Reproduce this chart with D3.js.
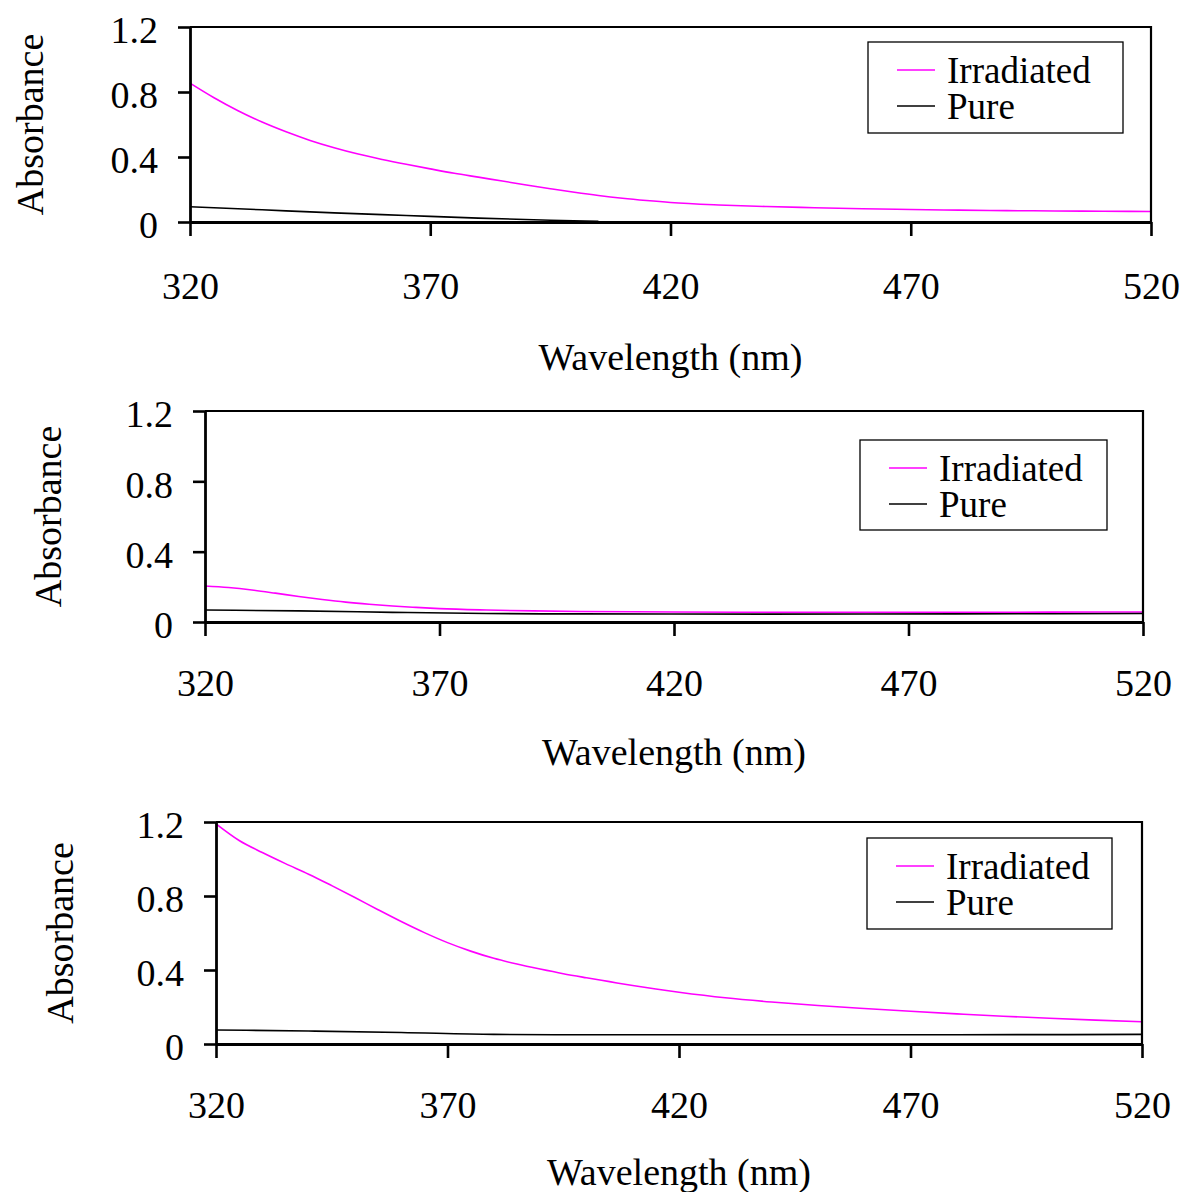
<!DOCTYPE html>
<html>
<head>
<meta charset="utf-8">
<script src="https://cdn.jsdelivr.net/npm/d3@7"></script>
<style>
    body { margin: 0; background: #fff; }
    text { font-family: "Liberation Serif", "Times New Roman", serif; fill: #000; }
</style>
</head>
<body>
<svg width="1186" height="1192"></svg>
<script>
// tick values and legend names
const xTicks = [320, 370, 420, 470, 520];
const yTicks = [0, 0.4, 0.8, 1.2];
const seriesNames = ["Irradiated", "Pure"];

// panel 1 (top)
const irr1Wl = [320, 325, 330, 335, 340, 345, 350, 355, 360, 365, 370, 375, 380, 385, 390, 395, 400, 405, 410, 415, 420, 430, 440, 450, 460, 470, 480, 490, 500, 510, 520];
const irr1Abs = [0.855, 0.765, 0.685, 0.615, 0.555, 0.502, 0.457, 0.418, 0.385, 0.355, 0.327, 0.3, 0.276, 0.252, 0.228, 0.205, 0.183, 0.163, 0.146, 0.132, 0.12, 0.105, 0.095, 0.088, 0.082, 0.077, 0.073, 0.07, 0.068, 0.066, 0.065];
const pure1Wl = [320, 335, 350, 365, 380, 395, 405];
const pure1Abs = [0.094, 0.075, 0.056, 0.04, 0.024, 0.011, 0.005];

// panel 2 (middle)
const irr2Wl = [320, 325, 330, 335, 340, 345, 350, 355, 360, 365, 370, 380, 390, 400, 420, 440, 460, 480, 500, 520];
const irr2Abs = [0.205, 0.196, 0.182, 0.164, 0.145, 0.128, 0.113, 0.101, 0.091, 0.083, 0.076, 0.068, 0.063, 0.06, 0.057, 0.055, 0.055, 0.055, 0.056, 0.057];
const pure2Wl = [320, 340, 360, 380, 400, 440, 480, 520];
const pure2Abs = [0.068, 0.063, 0.055, 0.048, 0.046, 0.045, 0.046, 0.048];

// panel 3 (bottom)
const irr3Wl = [320, 325, 330, 335, 340, 345, 350, 355, 360, 365, 370, 375, 380, 385, 390, 395, 400, 405, 410, 415, 420, 430, 440, 450, 460, 470, 480, 490, 500, 510, 520];
const irr3Abs = [1.19, 1.1, 1.035, 0.975, 0.918, 0.856, 0.792, 0.726, 0.662, 0.602, 0.548, 0.502, 0.463, 0.432, 0.405, 0.38, 0.358, 0.337, 0.316, 0.297, 0.28, 0.25, 0.227, 0.208, 0.192, 0.177, 0.163, 0.15, 0.139, 0.129, 0.12];
const pure3Wl = [320, 340, 360, 380, 400, 440, 480, 520];
const pure3Abs = [0.076, 0.07, 0.062, 0.052, 0.05, 0.05, 0.05, 0.052];

const colors = ["#ff00ff", "#000000"];
const fontSize = 38;

const panels = [
    {left: 190, right: 1151, top: 27, bottom: 222, yTitleX: 30, xLabelOff: 36, xTitleY: 357,
        legend: {x: 868, y: 42, w: 255, h: 91},
        series: [[irr1Wl, irr1Abs], [pure1Wl, pure1Abs]]},
    {left: 205, right: 1143, top: 411, bottom: 622, yTitleX: 48, xLabelOff: 33, xTitleY: 752,
        legend: {x: 860, y: 440, w: 247, h: 90},
        series: [[irr2Wl, irr2Abs], [pure2Wl, pure2Abs]]},
    {left: 216, right: 1142, top: 822, bottom: 1044, yTitleX: 60, xLabelOff: 33, xTitleY: 1172,
        legend: {x: 867, y: 838, w: 245, h: 91},
        series: [[irr3Wl, irr3Abs], [pure3Wl, pure3Abs]]}
];

const svg = d3.select("svg");

panels.forEach(function (p) {
    const x = d3.scaleLinear().domain([320, 520]).range([p.left, p.right]);
    const y = d3.scaleLinear().domain([0, 1.2]).range([p.bottom, p.top]);
    const g = svg.append("g");

    // data lines
    const line = d3.line()
        .x(d => x(d[0]))
        .y(d => y(d[1]))
        .curve(d3.curveMonotoneX);
    p.series.forEach(function (s, i) {
        const pts = s[0].map((w, k) => [w, s[1][k]]);
        g.append("path")
            .datum(pts)
            .attr("fill", "none")
            .attr("stroke", colors[i])
            .attr("stroke-width", 1.6)
            .attr("d", line);
    });

    // frame top / right
    g.append("path")
        .attr("d", `M${p.left},${p.top}H${p.right}V${p.bottom}`)
        .attr("fill", "none")
        .attr("stroke", "#000")
        .attr("stroke-width", 2.2);

    // axes
    const xAxis = g.append("g")
        .attr("transform", `translate(0,${p.bottom})`)
        .call(d3.axisBottom(x).tickValues(xTicks).tickSize(14).tickSizeOuter(0).tickPadding(p.xLabelOff));
    const yAxis = g.append("g")
        .attr("transform", `translate(${p.left},0)`)
        .call(d3.axisLeft(y).tickValues(yTicks).tickSize(12).tickSizeOuter(0).tickPadding(20)
            .tickFormat(d => String(d)));

    [xAxis, yAxis].forEach(function (a) {
        a.select(".domain").attr("stroke-width", 2.8);
        a.selectAll(".tick line").attr("stroke-width", 2.6);
        a.selectAll(".tick text")
            .style("font-family", '"Liberation Serif", "Times New Roman", serif')
            .style("font-size", fontSize + "px");
    });
    yAxis.selectAll(".tick text").attr("dy", "0.42em");

    // axis titles
    g.append("text")
        .attr("transform", `translate(${p.yTitleX},${(p.top + p.bottom) / 2}) rotate(-90)`)
        .attr("text-anchor", "middle")
        .attr("dominant-baseline", "central")
        .style("font-size", fontSize + "px")
        .text("Absorbance");
    g.append("text")
        .attr("x", (p.left + p.right) / 2)
        .attr("y", p.xTitleY)
        .attr("text-anchor", "middle")
        .attr("dominant-baseline", "central")
        .style("font-size", fontSize + "px")
        .text("Wavelength (nm)");

    // legend
    const L = p.legend;
    const lg = g.append("g").attr("transform", `translate(${L.x},${L.y})`);
    lg.append("rect")
        .attr("width", L.w).attr("height", L.h)
        .attr("fill", "#fff").attr("stroke", "#000").attr("stroke-width", 1.3);
    seriesNames.forEach(function (name, i) {
        const ry = 28 + i * 36;
        lg.append("line")
            .attr("x1", 29).attr("x2", 67)
            .attr("y1", ry).attr("y2", ry)
            .attr("stroke", colors[i]).attr("stroke-width", 1.5);
        lg.append("text")
            .attr("x", 79).attr("y", ry)
            .attr("dominant-baseline", "central")
            .style("font-size", "37px")
            .text(name);
    });
});
</script>
</body>
</html>
